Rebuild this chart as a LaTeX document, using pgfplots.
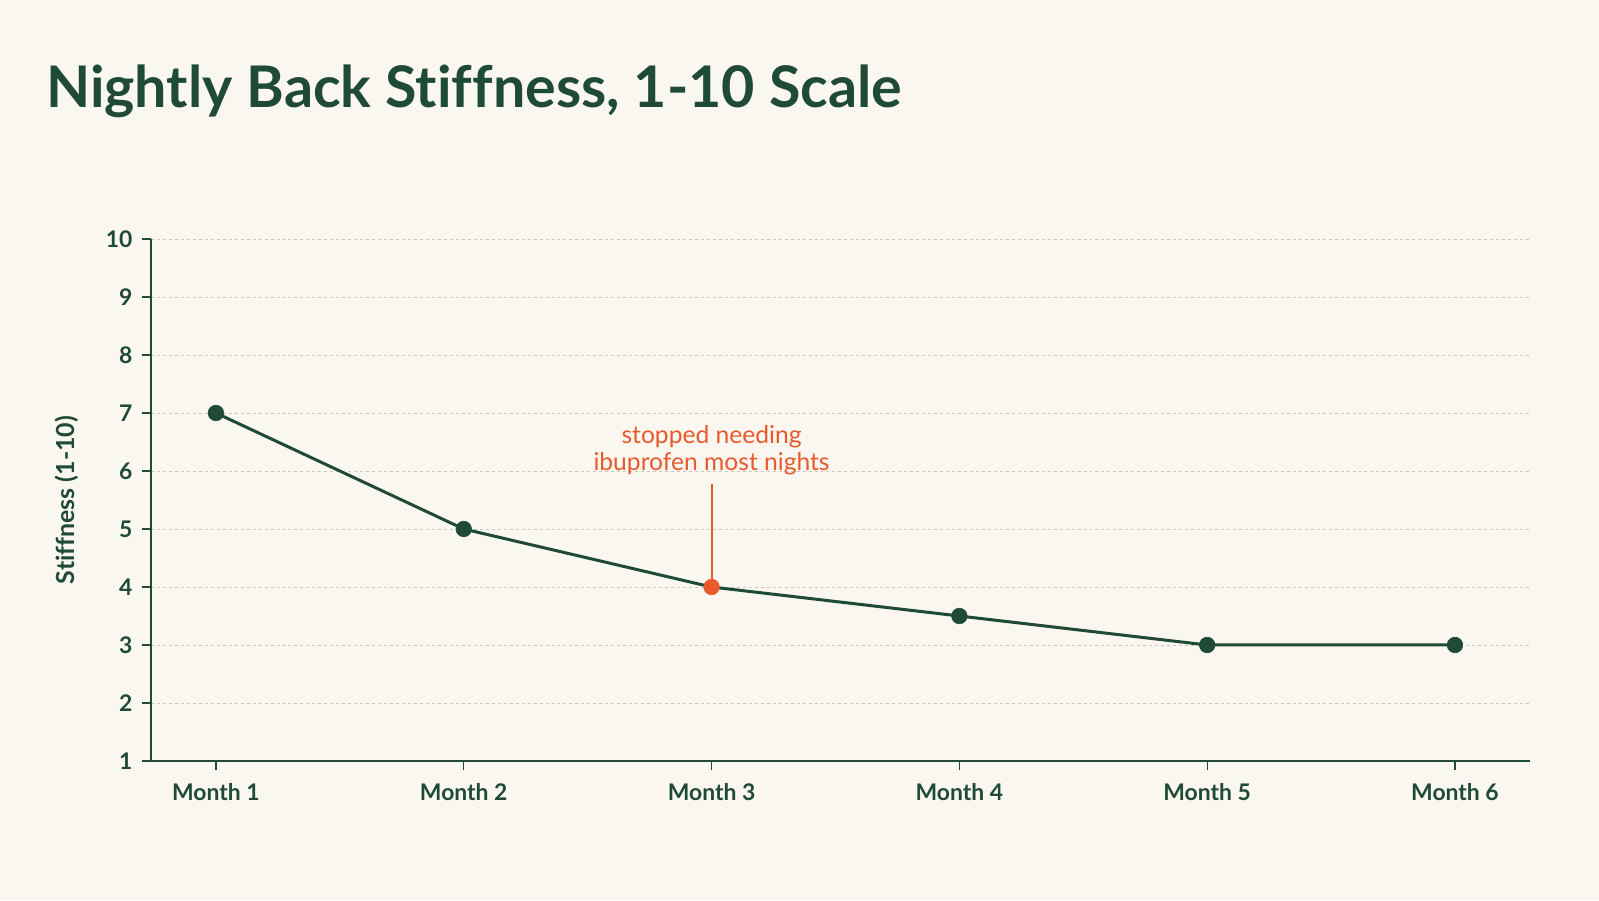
\documentclass[border=0pt]{standalone}
\usepackage{pgfplots}
\pgfplotsset{compat=1.18}
\usepackage{fontspec}
\setmainfont[Ligatures=NoCommon]{Lato}
\definecolor{bg}{HTML}{FAF7F1}
\definecolor{dgreen}{HTML}{1F4A36}
\definecolor{orng}{HTML}{E8592C}
\definecolor{gridc}{HTML}{C9C6C0}
\begin{document}
\begin{tikzpicture}[x=1bp,y=1bp]
\useasboundingbox (0,0) rectangle (1599,900);
\fill[bg] (0,0) rectangle (1599,900);
\node[anchor=base west, inner sep=0pt, text=dgreen, font=\fontsize{57.6}{70}\selectfont\bfseries] at (46,792) {Nightly Back Stiffness, 1-10 Scale};
\begin{axis}[
  at={(151bp,139bp)}, anchor=south west,
  scale only axis, width=1379bp, height=522bp,
  xmin=0.738, xmax=6.303, ymin=1, ymax=10,
  axis lines*=left,
  axis line style={dgreen, line width=1.6bp, -},
  xtick={1,2,3,4,5,6},
  xticklabels={Month 1,Month 2,Month 3,Month 4,Month 5,Month 6},
  ytick={1,2,...,10},
  tick align=outside,
  major tick length=9bp,
  tick style={dgreen, line width=1.2bp},
  ymajorgrids, grid style={gridc, dashed, line width=0.9bp},
  every tick label/.append style={text=dgreen, font=\fontsize{23}{25}\selectfont\bfseries},
  yticklabel style={xshift=-6bp},
  xticklabel style={yshift=-10bp},
  ylabel={Stiffness (1-10)},
  every axis y label/.style={at={(axis description cs:-0.0609,0.5)}, rotate=90, anchor=center, text=dgreen, font=\fontsize{25}{27}\selectfont\bfseries},
  /pgf/number format/assume math mode=true,
  clip=false,
]
\addplot[dgreen, line width=3bp, mark=*, mark size=7.8bp, mark indices={1,2,4,5,6}, mark options={fill=dgreen, draw=dgreen, line width=0.6bp}]
  coordinates {(1,7) (2,5) (3,4) (4,3.5) (5,3) (6,3)};
\addplot[orng, line width=2bp] coordinates {(3,5.78) (3,4)};
\addplot[only marks, mark=*, mark size=7.8bp, orng, mark options={fill=orng, draw=orng, line width=0.6bp}]
  coordinates {(3,4)};
\node[text=orng, font=\fontsize{24.7}{26.5}\selectfont, align=center, anchor=center] at (axis cs:3,6.36) {stopped needing\\ibuprofen most nights};
\end{axis}
\end{tikzpicture}
\end{document}
